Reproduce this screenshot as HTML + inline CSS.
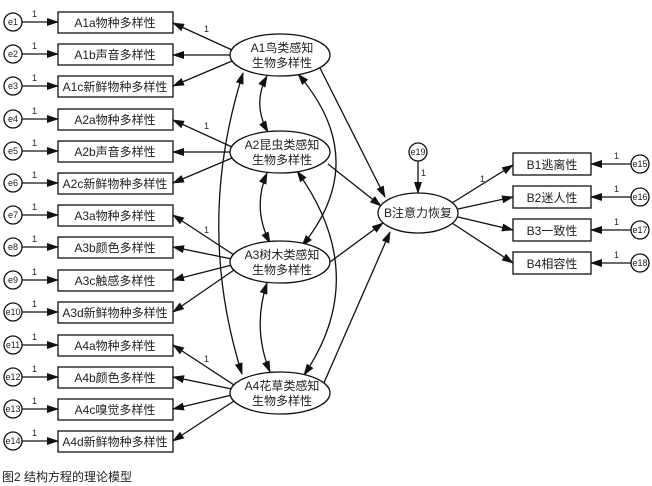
<!DOCTYPE html>
<html><head><meta charset="utf-8"><style>
body{margin:0;background:#fff;}
svg{display:block;font-family:"Liberation Sans","Noto Sans CJK SC",sans-serif;}
text{fill:#222;}
</style></head><body>
<svg width="652" height="486" viewBox="0 0 652 486" xmlns="http://www.w3.org/2000/svg">
<defs>
<marker id="a" markerWidth="12" markerHeight="8" refX="11" refY="4" orient="auto" markerUnits="userSpaceOnUse"><path d="M0,0 L12,4 L0,8 z" fill="#111"/></marker>
<marker id="s" markerWidth="12" markerHeight="8" refX="1" refY="4" orient="auto" markerUnits="userSpaceOnUse"><path d="M12,0 L0,4 L12,8 z" fill="#111"/></marker>
</defs>
<g stroke="#111" stroke-width="1.4" fill="none">
<!-- left indicator boxes -->
<g id="rows"></g>
</g>
<g stroke="#111" stroke-width="1.3" fill="#fff">
<rect x="58" y="12" width="115" height="21"/>
<rect x="58" y="44" width="115" height="21"/>
<rect x="58" y="76" width="115" height="21"/>
<rect x="58" y="109" width="115" height="21"/>
<rect x="58" y="141" width="115" height="21"/>
<rect x="58" y="173" width="115" height="21"/>
<rect x="58" y="205" width="115" height="21"/>
<rect x="58" y="237" width="115" height="21"/>
<rect x="58" y="270" width="115" height="21"/>
<rect x="58" y="302" width="115" height="21"/>
<rect x="58" y="335" width="115" height="21"/>
<rect x="58" y="367" width="115" height="21"/>
<rect x="58" y="399" width="115" height="21"/>
<rect x="58" y="431" width="115" height="21"/>
<rect x="513" y="153" width="78" height="22"/>
<rect x="513" y="186" width="78" height="22"/>
<rect x="513" y="219" width="78" height="22"/>
<rect x="513" y="252" width="78" height="22"/>
</g>
<g stroke="#111" stroke-width="1.3" fill="#fff">
<circle cx="13" cy="22" r="9"/><circle cx="13" cy="54" r="9"/><circle cx="13" cy="86" r="9"/>
<circle cx="13" cy="119" r="9"/><circle cx="13" cy="151" r="9"/><circle cx="13" cy="183" r="9"/>
<circle cx="13" cy="215" r="9"/><circle cx="13" cy="247" r="9"/><circle cx="13" cy="280" r="9"/>
<circle cx="13" cy="312" r="9"/><circle cx="13" cy="345" r="9"/><circle cx="13" cy="377" r="9"/>
<circle cx="13" cy="409" r="9"/><circle cx="13" cy="441" r="9"/>
<circle cx="640" cy="164" r="9"/><circle cx="640" cy="197" r="9"/><circle cx="640" cy="230" r="9"/><circle cx="640" cy="263" r="9"/>
<circle cx="418" cy="152" r="9"/>
</g>
<g stroke="#111" stroke-width="1.3" fill="none" marker-end="url(#a)">
<!-- e -> boxes -->
<path d="M22,22 H58"/><path d="M22,54 H58"/><path d="M22,86 H58"/><path d="M22,119 H58"/>
<path d="M22,151 H58"/><path d="M22,183 H58"/><path d="M22,215 H58"/><path d="M22,247 H58"/>
<path d="M22,280 H58"/><path d="M22,312 H58"/><path d="M22,345 H58"/><path d="M22,377 H58"/>
<path d="M22,409 H58"/><path d="M22,441 H58"/>
<path d="M631,164 H591"/><path d="M631,197 H591"/><path d="M631,230 H591"/><path d="M631,263 H591"/>
<path d="M418,161 V193"/>
<!-- latent -> indicators -->
<path d="M232,50 L173,23"/><path d="M231,55 H173"/><path d="M232,61 L173,86"/>
<path d="M232,147 L173,120"/><path d="M231,152 H173"/><path d="M232,158 L173,183"/>
<path d="M234,255 L173,215"/><path d="M232,259 L173,247"/><path d="M232,265 L173,280"/><path d="M234,270 L173,312"/>
<path d="M234,385 L173,345"/><path d="M232,389 L173,377"/><path d="M232,395 L173,409"/><path d="M234,401 L173,441"/>
<!-- B -> indicators -->
<path d="M452,203 L513,165"/><path d="M458,209 L513,197"/><path d="M458,217 L513,230"/><path d="M452,223 L513,263"/>
<!-- latent -> B -->
<path d="M320,68 L385,197"/><path d="M328,164 L381,206"/><path d="M330,262 L383,223"/><path d="M323,385 L390,232"/>
</g>
<g stroke="#111" stroke-width="1.3" fill="none" marker-start="url(#s)" marker-end="url(#a)">
<path d="M267,76 Q252,104 268,132"/>
<path d="M267,173 Q252,208 270,243"/>
<path d="M267,283 Q252,328 270,372"/>
<path d="M298,74 Q372,160 302,246"/>
<path d="M297,171 Q372,275 304,375"/>
<path d="M243,73 Q195,225 242,374"/>
</g>
<g stroke="#111" stroke-width="1.3" fill="#fff">
<ellipse cx="280" cy="55" rx="50" ry="21"/>
<ellipse cx="280" cy="152" rx="50" ry="21"/>
<ellipse cx="280" cy="262" rx="50" ry="21"/>
<ellipse cx="280" cy="393" rx="50" ry="21"/>
<ellipse cx="418" cy="213" rx="40" ry="20"/>
</g>
<g font-size="12" text-anchor="middle">
<text x="115" y="27">A1a物种多样性</text><text x="115" y="59">A1b声音多样性</text><text x="115" y="91">A1c新鲜物种多样性</text>
<text x="115" y="124">A2a物种多样性</text><text x="115" y="156">A2b声音多样性</text><text x="115" y="188">A2c新鲜物种多样性</text>
<text x="115" y="220">A3a物种多样性</text><text x="115" y="252">A3b颜色多样性</text><text x="115" y="285">A3c触感多样性</text>
<text x="115" y="317">A3d新鲜物种多样性</text><text x="115" y="350">A4a物种多样性</text><text x="115" y="382">A4b颜色多样性</text>
<text x="115" y="414">A4c嗅觉多样性</text><text x="115" y="446">A4d新鲜物种多样性</text>
<text x="552" y="169">B1逃离性</text><text x="552" y="202">B2迷人性</text><text x="552" y="235">B3一致性</text><text x="552" y="268">B4相容性</text>
<text x="282" y="52">A1鸟类感知</text><text x="282" y="67">生物多样性</text>
<text x="282" y="149">A2昆虫类感知</text><text x="282" y="164">生物多样性</text>
<text x="282" y="259">A3树木类感知</text><text x="282" y="274">生物多样性</text>
<text x="282" y="390">A4花草类感知</text><text x="282" y="405">生物多样性</text>
<text x="418" y="217">B注意力恢复</text>
</g>
<g font-size="9" text-anchor="middle">
<text x="13" y="25">e1</text><text x="13" y="57">e2</text><text x="13" y="89">e3</text><text x="13" y="122">e4</text>
<text x="13" y="154">e5</text><text x="13" y="186">e6</text><text x="13" y="218">e7</text><text x="13" y="250">e8</text>
<text x="13" y="283">e9</text><text x="13" y="315">e10</text><text x="13" y="348">e11</text><text x="13" y="380">e12</text>
<text x="13" y="412">e13</text><text x="13" y="444">e14</text>
<text x="640" y="167">e15</text><text x="640" y="200">e16</text><text x="640" y="233">e17</text><text x="640" y="266">e18</text>
<text x="418" y="155">e19</text>
</g>
<g font-size="9">
<text x="32" y="17">1</text><text x="32" y="49">1</text><text x="32" y="81">1</text><text x="32" y="114">1</text>
<text x="32" y="146">1</text><text x="32" y="178">1</text><text x="32" y="210">1</text><text x="32" y="242">1</text>
<text x="32" y="275">1</text><text x="32" y="307">1</text><text x="32" y="340">1</text><text x="32" y="372">1</text>
<text x="32" y="404">1</text><text x="32" y="436">1</text>
<text x="614" y="159">1</text><text x="614" y="192">1</text><text x="614" y="225">1</text><text x="614" y="258">1</text>
<text x="421" y="176">1</text><text x="480" y="182">1</text>
<text x="204" y="32">1</text><text x="204" y="129">1</text><text x="204" y="233">1</text><text x="204" y="362">1</text>
</g>
<text x="2" y="481" font-size="12" fill="#444">图2  结构方程的理论模型</text>
</svg>
</body></html>
